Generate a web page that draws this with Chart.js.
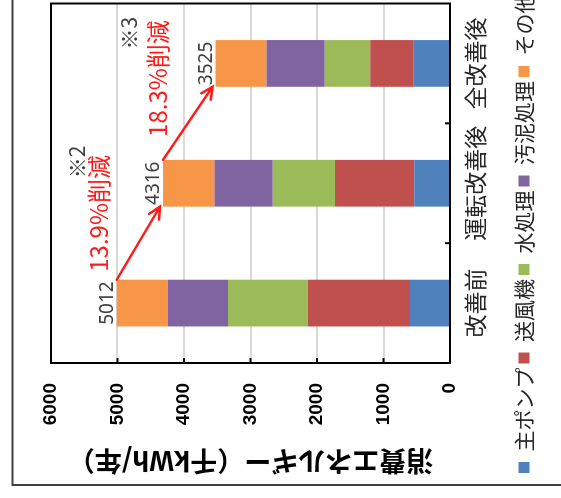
<!DOCTYPE html>
<html>
<head>
<meta charset="utf-8">
<script src="https://cdn.jsdelivr.net/npm/chart.js@4/dist/chart.umd.min.js"></script>
<style>
  body { margin: 0; background: #fff; }
  #view { position: relative; width: 561px; height: 498px; overflow: hidden; background: #fff; }
  /* the reference is an Excel column chart turned a quarter turn to the left */
  #turn { position: absolute; left: 0; top: 0; width: 560px; height: 561px;
          transform-origin: 0 0; transform: translate(0, 498px) rotate(-90deg); }
  #chart { display: block; }
</style>
</head>
<body>
<div id="view">
  <div id="turn"><canvas id="chart" width="560" height="561"></canvas></div>
</div>
<script>
const categories = ["改善前", "運転改善後", "全改善後"];
const seriesNames = ["主ポンプ", "送風機", "水処理", "汚泥処理", "その他"];
const mainPump = [600, 537, 545];
const blower = [1540, 1194, 656];
const waterTreat = [1200, 933, 681];
const sludgeTreat = [905, 878, 877];
const others = [767, 774, 766];
const totals = [5012, 4316, 3525];
const reductions = ["13.9%削減", "18.3%削減"];
const notes = ["※2", "※3"];
const yMax = 6000;
const yStep = 1000;

const colors = ["#4f81bd", "#c0504d", "#9bbb59", "#8064a2", "#f79646"];
const jp = "'Noto Sans CJK JP', sans-serif";

//frame, inward ticks, totals and arrows
const decor = {
  id: "decor",
  beforeDraw(chart) {
    const ctx = chart.ctx;
    ctx.save();
    ctx.fillStyle = "#fff";
    ctx.fillRect(0, 0, chart.width, chart.height);
    ctx.strokeStyle = "#404040";
    ctx.lineWidth = 2;
    ctx.strokeRect(13, 12.5, chart.width + 50, chart.height + 50);
    ctx.restore();
  },
  afterDatasetsDraw(chart) {
    const { ctx, chartArea: a } = chart;
    const x = chart.scales.x;
    const y = chart.scales.y;
    ctx.save();

    ctx.strokeStyle = "#000";
    ctx.lineWidth = 2;
    ctx.strokeRect(a.left, a.top, a.right - a.left, a.bottom - a.top);
    ctx.beginPath();
    y.ticks.forEach((t) => {
      const py = y.getPixelForValue(t.value);
      ctx.moveTo(a.left, py);
      ctx.lineTo(a.left + 5, py);
    });
    for (let i = 1; i < categories.length; i++) {
      const px = (x.getPixelForValue(i - 1) + x.getPixelForValue(i)) / 2;
      ctx.moveTo(px, a.bottom);
      ctx.lineTo(px, a.bottom - 5);
    }
    ctx.stroke();

    const half = chart.getDatasetMeta(0).data[0].width / 2;

    // totals above the stacks
    ctx.fillStyle = "#404040";
    ctx.font = "19px 'Noto Sans', sans-serif";
    ctx.textAlign = "center";
    ctx.textBaseline = "alphabetic";
    totals.forEach((t, i) => {
      ctx.fillText(String(t), x.getPixelForValue(i), y.getPixelForValue(t) - 4);
    });

    // red arrows between the stacks
    ctx.strokeStyle = "#ff1a1a";
    ctx.lineWidth = 2.5;
    ctx.lineCap = "round";
    for (let i = 0; i < totals.length - 1; i++) {
      const x0 = x.getPixelForValue(i) + half;
      const y0 = y.getPixelForValue(totals[i]);
      const x1 = x.getPixelForValue(i + 1) - half;
      const y1 = y.getPixelForValue(totals[i + 1]) - 3;
      const ang = Math.atan2(y1 - y0, x1 - x0);
      ctx.beginPath();
      ctx.moveTo(x0, y0);
      ctx.lineTo(x1, y1);
      ctx.moveTo(x1 - 13 * Math.cos(ang - 0.45), y1 - 13 * Math.sin(ang - 0.45));
      ctx.lineTo(x1, y1);
      ctx.lineTo(x1 - 13 * Math.cos(ang + 0.45), y1 - 13 * Math.sin(ang + 0.45));
      ctx.stroke();
    }

    // reduction texts
    ctx.fillStyle = "#ff1a1a";
    ctx.font = "24px " + jp;
    ctx.textAlign = "left";
    ctx.textBaseline = "middle";
    ctx.fillText(reductions[0], x.getPixelForValue(0) + half + 8, y.getPixelForValue(totals[0]) - 18);
    ctx.fillText(reductions[1], x.getPixelForValue(1) + half + 23, y.getPixelForValue(totals[1]) - 5);

    // notes
    ctx.fillStyle = "#404040";
    ctx.font = "21px " + jp;
    ctx.textAlign = "center";
    ctx.fillText(notes[0], x.getPixelForValue(1) + half - 2, y.getPixelForValue(totals[1]) - 86);
    ctx.fillText(notes[1], x.getPixelForValue(2) + half + 7, y.getPixelForValue(totals[2]) - 87);

    ctx.restore();
  },
};

const ctx = document.getElementById("chart").getContext("2d");
const chart = new Chart(ctx, {
  type: "bar",
  data: {
    labels: categories,
    datasets: [mainPump, blower, waterTreat, sludgeTreat, others].map((d, i) => ({
      label: seriesNames[i],
      data: d,
      backgroundColor: colors[i],
      borderWidth: 0,
      barPercentage: 0.39,
      categoryPercentage: 1,
    })),
  },
  options: {
    responsive: false,
    animation: false,
    layout: { padding: { left: 21, right: 0, top: 51, bottom: 16.5 } },
    plugins: {
      tooltip: { enabled: false },
      legend: {
        position: "bottom",
        align: "start",
        labels: {
          boxWidth: 11,
          boxHeight: 11,
          padding: 4,
          color: "#262626",
          font: { size: 21, family: jp },
        },
      },
    },
    scales: {
      x: {
        stacked: true,
        grid: { display: false, drawTicks: false },
        border: { display: false },
        ticks: {
          color: "#262626",
          padding: 11,
          minRotation: 0,
          maxRotation: 0,
          autoSkip: false,
          font: { size: 23, family: jp },
        },
        afterFit(s) { s.height = 59.5; },
      },
      y: {
        stacked: true,
        min: 0,
        max: yMax,
        grid: { color: "#d9d9d9", lineWidth: 2, drawTicks: false },
        border: { display: false },
        ticks: {
          stepSize: yStep,
          padding: 20,
          color: "#000",
          callback: (v) => String(v),
          font: { size: 19, weight: "bold", family: "'Liberation Sans', Arial, sans-serif" },
        },
        title: {
          display: true,
          text: "消費エネルギー（千kWh/年）",
          color: "#000",
          padding: { top: 0, bottom: 0 },
          font: { size: 27, weight: "bold", family: jp },
        },
        afterFit(s) { s.width = 114; },
      },
      gap: {
        type: "linear",
        position: "right",
        grid: { display: false, drawTicks: false },
        border: { display: false },
        ticks: { display: false },
        afterFit(s) { s.width = 65.5; },
      },
    },
  },
  plugins: [decor],
});
</script>
</body>
</html>
